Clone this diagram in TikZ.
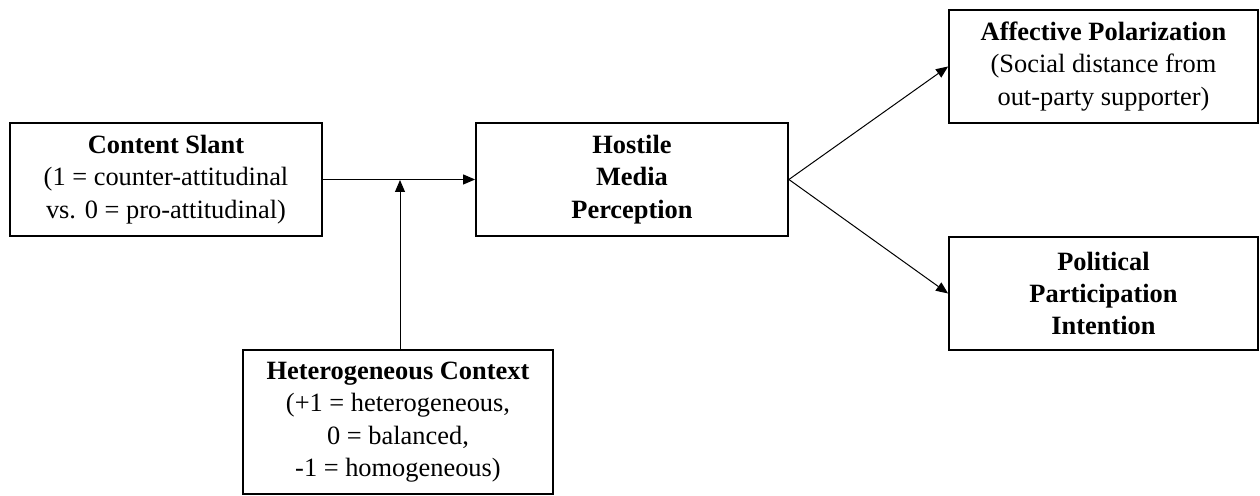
\documentclass[tikz,border=0pt]{standalone}
\usepackage{fontspec}
\setmainfont{Liberation Serif}
\usetikzlibrary{arrows.meta}
\usetikzlibrary{calc}

\tikzset{
  varbox/.style={draw=black, line width=0.9pt, align=center, inner sep=2pt,
    minimum width=156pt, minimum height=56.5pt,
    font=\fontsize{13.2}{16.2}\selectfont},
  path/.style={black, line width=0.5pt, -{Triangle[length=6pt,width=5pt]}}
}

\begin{document}
\begin{tikzpicture}[x=0.5pt,y=-0.5pt]
                \useasboundingbox (0,0) rectangle (1260,496);
                \node[varbox] (slant) at (166,179.5) {\textbf{Content Slant}\\(1 = counter-attitudinal\\vs. 0 = pro-attitudinal)};
                \node[varbox] (hmp) at (632,179.5) {\textbf{Hostile}\\\textbf{Media}\\\textbf{Perception}};
                \node[varbox, minimum width=154.5pt] (affect) at (1103.5,66.5) {\textbf{Affective Polarization}\\(Social distance from\\out-party supporter)};
                \node[varbox, minimum width=154.5pt] (partic) at (1103.5,293.5) {\textbf{Political}\\\textbf{Participation}\\\textbf{Intention}};
                \node[varbox, minimum width=155pt, minimum height=72pt] (hetero) at (398,422) {\textbf{Heterogeneous Context}\\(+1 = heterogeneous,\\0 = balanced,\\-1 = homogeneous)};
                \coordinate (moderate) at (400,180);
                \draw[path] (slant.east) -- (hmp.west);
                \draw[path] (hetero.north -| moderate) -- (moderate);
                \draw[path] (hmp.east) -- (affect.west);
                \draw[path] (hmp.east) -- (partic.west);
            \end{tikzpicture}
\end{document}
